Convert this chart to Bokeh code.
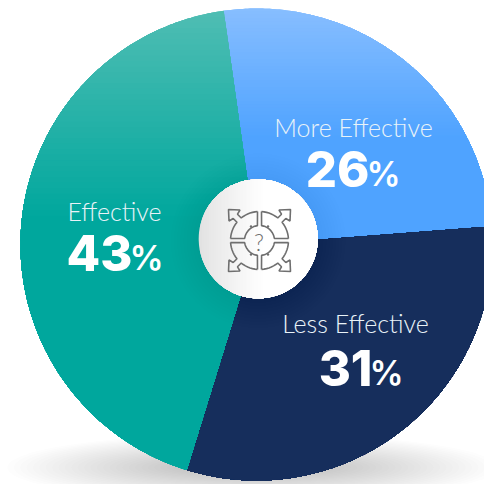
import numpy as np
from bokeh.core.properties import value
from bokeh.embed import file_html
from bokeh.models import Range1d
from bokeh.plotting import figure
from bokeh.resources import INLINE

# Survey shares, clockwise from the top boundary
categories = ["More Effective", "Less Effective", "Effective"]
shares = [26, 31, 43]
slice_tops = ["#8abfff", "#162e5c", "#52beb4"]
slice_bottoms = ["#4fa3ff", "#162e5c", "#00a79d"]
gradient_ends = [135, 135, 215]

CX, CY, R = 256, 244, 236
HUB_X, HUB_Y, HUB_R = 257.7, 238.3, 59.5
START_DEG = -8.0
LABEL_FONT = value("Lato Light")
NUMBER_FONT = value("Inter ExtraBold")


def clip(poly, axis, cut):
    """Keep the part of a convex polygon where coordinate `axis` is >= cut."""
    out = []
    for i in range(len(poly)):
        a, b = poly[i], poly[(i + 1) % len(poly)]
        ina, inb = a[axis] >= cut, b[axis] >= cut
        if ina:
            out.append(a)
        if ina != inb:
            t = (cut - a[axis]) / (b[axis] - a[axis])
            out.append((a[0] + t * (b[0] - a[0]), a[1] + t * (b[1] - a[1])))
    return out


def mix(c1, c2, t):
    p = [int(c1[i:i + 2], 16) for i in (1, 3, 5)]
    q = [int(c2[i:i + 2], 16) for i in (1, 3, 5)]
    return "#%02x%02x%02x" % tuple(round(u + (v - u) * t) for u, v in zip(p, q))


p = figure(width=484, height=484, output_backend="svg", toolbar_location=None,
           x_range=Range1d(0, 484), y_range=Range1d(484, 0), min_border=0,
           outline_line_color=None, background_fill_color="white")
p.axis.visible = False
p.grid.visible = False

# Ground shadow under the pie
for w, h in zip(np.linspace(490, 120, 30), np.linspace(68, 10, 30)):
    p.ellipse(x=[252], y=[467], width=[w], height=[h], fill_color="#404040",
              fill_alpha=0.011, line_color=None)

# Slices, painted as nested layers to give each one a vertical gradient
angle = np.radians(START_DEG)
for share, top, bottom, end in zip(shares, slice_tops, slice_bottoms, gradient_ends):
    sweep = np.radians(share * 3.6)
    thetas = np.linspace(angle, angle + sweep, 160)
    wedge = [(CX, CY)] + [(CX + R * np.sin(t), CY - R * np.cos(t)) for t in thetas]
    angle += sweep
    xs, ys, colors = [], [], []
    cuts = np.linspace(0, end, 40)
    for i, cut in enumerate(cuts):
        part = clip(wedge, 1, cut)
        if len(part) < 3:
            continue
        xs.append([q[0] for q in part])
        ys.append([q[1] for q in part])
        colors.append(mix(top, bottom, (i / (len(cuts) - 1))))
    p.patches(xs, ys, fill_color=colors, line_color=None)

# Soft shade the hub casts on the slices
for r in np.linspace(88, HUB_R, 10):
    p.circle(x=[HUB_X], y=[HUB_Y + 2], radius=[r], fill_color="#06264f",
             fill_alpha=0.005, line_color=None)

# Hub disc, grey at its left edge fading to white
ring = [(HUB_X + HUB_R * np.cos(t), HUB_Y + HUB_R * np.sin(t))
        for t in np.linspace(0, 2 * np.pi, 180, endpoint=False)]
hx, hy, hc = [], [], []
for i, cut in enumerate(np.linspace(HUB_X - HUB_R - 1, HUB_X + 5, 30)):
    part = clip(ring, 0, cut)
    hx.append([q[0] for q in part])
    hy.append([q[1] for q in part])
    hc.append(mix("#e0e0e0", "#ffffff", (i / 29) ** 0.8))
p.patches(hx, hy, fill_color=hc, line_color=None)

# Hub icon: four quarter segments with corner arrows around a question mark
IX, IY = 259, 240
ICON = "#6f6f6f"
ix, iy = [], []
for sx, sy in [(1, -1), (-1, -1), (1, 1), (-1, 1)]:
    arc_in = [(15 * np.cos(t), 15 * np.sin(t)) for t in np.linspace(np.radians(8), np.radians(82), 10)]
    arc_top = [(29 * np.cos(t), 29 * np.sin(t)) for t in np.linspace(np.radians(86), np.radians(51), 8)]
    arc_side = [(29 * np.cos(t), 29 * np.sin(t)) for t in np.linspace(np.radians(39), np.radians(4), 8)]
    arrow = [(22, 26.3), (19.5, 30.5), (31, 31), (30.5, 19.5), (26.3, 22)]
    outline = [(2, 29)] + arc_top + arrow + arc_side + [(29, 2)] + arc_in + [(2, 29)]
    ix.append([IX + sx * q[0] for q in outline])
    iy.append([IY + sy * q[1] for q in outline])
p.multi_line(ix, iy, line_color=ICON, line_width=1.6)
p.circle(x=[IX + s * 8.5 for s in (1, -1, 1, -1)], y=[IY + s * 14 for s in (-1, -1, 1, 1)],
         radius=[1.2] * 4, fill_color=ICON, line_color=None)
p.text(x=[IX - 0.5], y=[IY + 1], text=["?"], text_font=LABEL_FONT, text_font_size="23px",
       text_color=ICON, text_align="center", text_baseline="alphabetic")

# Slice captions and percentages
label_x = [353, 355, 114]
label_y = [126, 322, 210]
number_right = [369, 372, 132]
number_y = [168, 367, 252]
percent_x = [366, 369, 129]
percent_y = [173, 372, 257]
p.text(x=label_x, y=label_y, text=categories, text_font=LABEL_FONT, text_font_size="25px",
       text_color="#e9f3f8", text_align="center", text_baseline="alphabetic")
p.text(x=number_right, y=number_y, text=[str(s) for s in shares], text_font=NUMBER_FONT,
       text_font_style="bold", text_font_size="49px", text_color="white", text_align="right",
       text_baseline="alphabetic")
p.text(x=percent_x, y=percent_y, text=["%"] * 3, text_font=value("Inter SemiBold"),
       text_font_size="34px", text_color="white", text_align="left",
       text_baseline="alphabetic")

open("out.html", "w").write(file_html(p, INLINE))
